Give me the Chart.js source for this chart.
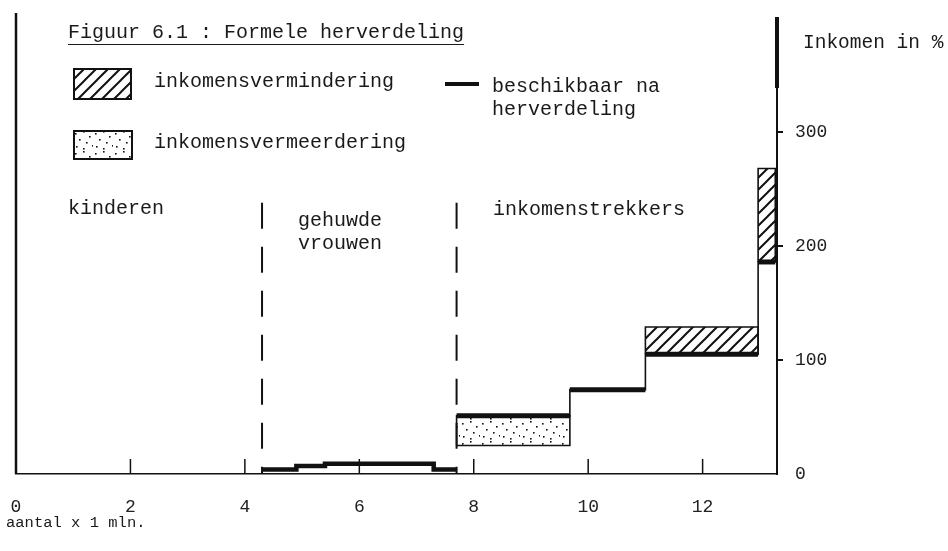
<!DOCTYPE html>
<html><head><meta charset="utf-8">
<script src="https://cdn.jsdelivr.net/npm/chart.js@4/dist/chart.umd.min.js"></script>
<style>
html,body{margin:0;padding:0;background:#fff;}
#wrap{position:relative;width:948px;height:551px;overflow:hidden;font-family:"Liberation Mono","DejaVu Sans Mono",monospace;color:#1a1a1a;background:#fff;}
#c{position:absolute;left:0;top:0;}
.t{position:absolute;white-space:pre;font-size:20px;line-height:20px;}
.sw{position:absolute;}
</style></head><body>
<div id="wrap">
<canvas id="c" width="948" height="551"></canvas>
<div class="t" style="left:68px;top:23px;text-decoration:underline;text-underline-offset:6px;text-decoration-thickness:1px">Figuur 6.1 : Formele herverdeling</div>
<canvas class="sw" id="swHatch" width="59" height="32" style="left:73px;top:68px"></canvas>
<div class="t" style="left:154px;top:72px">inkomensvermindering</div>
<canvas class="sw" id="swDots" width="60" height="30" style="left:73px;top:130px"></canvas>
<div class="t" style="left:154px;top:133px">inkomensvermeerdering</div>
<canvas class="sw" id="swLine" width="34" height="8" style="left:445px;top:80px"></canvas>
<div class="t" style="left:492px;top:75px;line-height:23px">beschikbaar na
herverdeling</div>
<div class="t" style="left:803px;top:33px;font-size:19.5px">Inkomen in %</div>
<div class="t" id="g0" style="left:68px;top:199px"></div>
<div class="t" id="g1" style="left:298px;top:209px;line-height:23px"></div>
<div class="t" id="g2" style="left:493px;top:200px"></div>
<div class="t" style="left:6px;top:516px;font-size:15.5px;line-height:15.5px">aantal x 1 mln.</div>
</div>
<script>
// ---- data ----
const xTicks = [0, 2, 4, 6, 8, 10, 12];
const yTicks = [0, 100, 200, 300];
const groupNames = ['kinderen', 'gehuwde\nvrouwen', 'inkomenstrekkers'];
const groupBounds = [4.3, 7.7];
const sepTop = 238;
const womenX = [4.3, 4.9, 5.4, 7.3, 7.7];
const womenAfter = [4, 7, 9, 4, 4];
const earnerStart = [7.7, 9.68, 11.0, 12.97];
const earnerEnd = [9.68, 11.0, 12.97, 13.27];
const earnerBefore = [25, 74, 129, 268];
const earnerAfter = [51, 74, 105, 186];

['g0','g1','g2'].forEach((id,i)=>{document.getElementById(id).textContent = groupNames[i];});

// ---- patterns ----
function hatchPattern(ctx){
  const c = document.createElement('canvas'); c.width = 12; c.height = 12;
  const g = c.getContext('2d');
  g.fillStyle = '#fff'; g.fillRect(0,0,12,12);
  g.strokeStyle = '#111'; g.lineWidth = 2;
  g.beginPath();
  g.moveTo(-2,14); g.lineTo(14,-2);
  g.moveTo(-8,8); g.lineTo(8,-8);
  g.moveTo(4,20); g.lineTo(20,4);
  g.stroke();
  return ctx.createPattern(c,'repeat');
}
function dotPattern(ctx){
  const c = document.createElement('canvas'); c.width = 20; c.height = 20;
  const g = c.getContext('2d');
  g.fillStyle = '#fff'; g.fillRect(0,0,20,20);
  g.fillStyle = '#111';
  [[2,3],[10,1],[16,6],[6,9],[13,12],[19,15],[3,16],[10,18]].forEach(([x,y])=>{g.fillRect(x,y,1.6,1.6);});
  return ctx.createPattern(c,'repeat');
}
const mainCtx = document.getElementById('c').getContext('2d');
const HATCH = hatchPattern(mainCtx), DOTS = dotPattern(mainCtx);

// legend swatches
(function(){
  const a = document.getElementById('swHatch').getContext('2d');
  a.fillStyle = hatchPattern(a); a.fillRect(0,0,59,32);
  a.strokeStyle='#111'; a.lineWidth=2; a.strokeRect(1,1,57,30);
  const b = document.getElementById('swDots').getContext('2d');
  b.fillStyle = dotPattern(b); b.fillRect(0,0,60,30);
  b.strokeStyle='#111'; b.lineWidth=2; b.strokeRect(1,1,58,28);
  const l = document.getElementById('swLine').getContext('2d');
  l.fillStyle='#111'; l.fillRect(0,2,34,4);
})();

// ---- datasets ----
const base = {pointRadius:0, pointHoverRadius:0, tension:0, clip:false, fill:false, borderColor:'#111'};
const datasets = [];
earnerStart.forEach((s,i)=>{
  const e = earnerEnd[i], b = earnerBefore[i], a = earnerAfter[i];
  if (b === a) return;
  const lo = Math.min(a,b), hi = Math.max(a,b);
  datasets.push({...base, order:6, data:[{x:s,y:hi},{x:e,y:hi}], fill:{value:lo},
    backgroundColor: b > a ? HATCH : DOTS, borderWidth:0});
  datasets.push({...base, order:4, data:[{x:s,y:lo},{x:s,y:hi},{x:e,y:hi},{x:e,y:lo},{x:s,y:lo}], borderWidth:1.6});
});
const stepPts = earnerStart.map((s,i)=>({x:s,y:earnerAfter[i]}));
stepPts.push({x:earnerEnd[earnerEnd.length-1], y:earnerAfter[earnerAfter.length-1]});
datasets.push({...base, order:3, data:stepPts, stepped:'before', borderWidth:1.6});
earnerStart.forEach((s,i)=>{
  datasets.push({...base, order:1, data:[{x:s,y:earnerAfter[i]},{x:earnerEnd[i],y:earnerAfter[i]}], borderWidth:5, borderCapStyle:'butt'});
});
datasets.push({...base, order:1, data:womenX.map((x,i)=>({x, y:womenAfter[i]})), stepped:'before', borderWidth:4.5});
groupBounds.forEach(b=>{
  datasets.push({...base, order:2, data:[{x:b,y:sepTop},{x:b,y:0}], borderWidth:2, borderDash:[26,18]});
});

const decor = {
  id:'decor',
  afterDatasetsDraw(chart){
    const {ctx, chartArea:ca, scales:{x,y}} = chart;
    ctx.save();
    ctx.strokeStyle = '#111';
    ctx.lineWidth = 2.5;
    ctx.beginPath(); ctx.moveTo(x.getPixelForValue(0), ca.top-5); ctx.lineTo(x.getPixelForValue(0), ca.bottom); ctx.stroke();
    ctx.lineWidth = 4;
    ctx.beginPath(); ctx.moveTo(ca.right, ca.top-1); ctx.lineTo(ca.right, ca.top+70); ctx.stroke();
    ctx.lineWidth = 1.5;
    xTicks.forEach(v=>{ if (v===0) return; const px = x.getPixelForValue(v);
      ctx.beginPath(); ctx.moveTo(px, ca.bottom); ctx.lineTo(px, ca.bottom-15); ctx.stroke(); });
    ctx.restore();
  }
};

new Chart(document.getElementById('c'), {
  type:'line',
  data:{datasets},
  options:{
    responsive:false, animation:false, devicePixelRatio:1,
    layout:{padding:{left:16, top:18, right:0, bottom:0}},
    plugins:{legend:{display:false}, tooltip:{enabled:false}},
    scales:{
      x:{type:'linear', min:0, max:13.3, position:'bottom',
        afterBuildTicks: s => { s.ticks = xTicks.map(v=>({value:v})); },
        afterFit: s => { s.height = 77; s.paddingLeft = 0; s.paddingRight = 0; },
        grid:{display:false, drawTicks:false},
        border:{display:true, color:'#111', width:1.5},
        ticks:{font:{family:'Liberation Mono', size:18}, color:'#222', padding:22, maxRotation:0, autoSkip:false}},
      y:{type:'linear', min:0, max:400, position:'right',
        afterBuildTicks: s => { s.ticks = yTicks.map(v=>({value:v})); },
        afterFit: s => { s.width = 171; s.paddingTop = 0; s.paddingBottom = 0; },
        grid:{drawOnChartArea:false, drawTicks:true, tickLength:6, lineWidth:2,
          color: c => (c.tick && c.tick.value === 0) ? 'rgba(0,0,0,0)' : '#111'},
        border:{display:true, color:'#111', width:2},
        ticks:{font:{family:'Liberation Mono', size:18}, color:'#222', padding:12}}
    }
  },
  plugins:[decor]
});
</script>
</body></html>
